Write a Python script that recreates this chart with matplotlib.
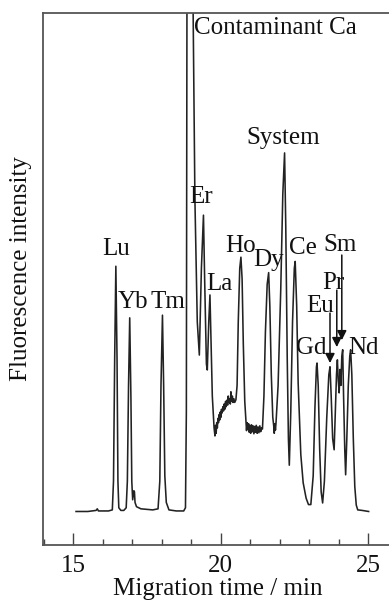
import matplotlib
matplotlib.use("Agg")
import matplotlib.pyplot as plt
from matplotlib.ticker import MultipleLocator

plt.rcParams['font.family'] = ['Liberation Serif', 'DejaVu Serif']

# electropherogram trace (time in min, intensity in % of axis height)
time = [15.10, 15.50, 15.78, 15.82, 15.86, 16.20, 16.33, 16.37, 16.41, 16.45, 16.49, 16.52, 16.55,
        16.62, 16.72, 16.80, 16.84, 16.88, 16.92, 16.96, 16.99, 17.02, 17.06, 17.08, 17.10, 17.15,
        17.30, 17.70, 17.88, 17.94, 17.98, 18.03, 18.07, 18.11, 18.16, 18.25, 18.50, 18.75, 18.81,
        18.84, 18.86, 18.96, 19.07, 19.13, 19.21, 19.28, 19.35, 19.42, 19.46, 19.52, 19.55, 19.60,
        19.64, 19.67, 19.72, 19.78, 19.81,
        19.83, 19.85, 19.87, 19.89, 19.91, 19.93, 19.95, 19.97, 19.99, 20.01, 20.03, 20.05, 20.08,
        20.10, 20.12, 20.14, 20.17, 20.19, 20.21, 20.24, 20.26, 20.28, 20.31, 20.33, 20.35, 20.37,
        20.40, 20.42, 20.45, 20.48, 20.52,
        20.56, 20.60, 20.65, 20.69, 20.73, 20.77, 20.82, 20.86,
        20.88, 20.90, 20.92, 20.95, 20.97, 21.00, 21.02, 21.05, 21.08, 21.10, 21.13, 21.16, 21.18,
        21.21, 21.24, 21.27, 21.30, 21.33, 21.36, 21.39, 21.42,
        21.47, 21.52, 21.58, 21.63, 21.67, 21.72, 21.77, 21.80, 21.82, 21.84, 21.86, 21.88,
        21.95, 22.04, 22.11, 22.17, 22.21, 22.26, 22.30, 22.33,
        22.38, 22.44, 22.50, 22.53, 22.58, 22.63, 22.72, 22.80, 22.90, 22.98, 23.06,
        23.14, 23.20, 23.25, 23.27, 23.31, 23.36, 23.41, 23.46,
        23.52, 23.60, 23.67, 23.71, 23.75, 23.80, 23.85,
        23.89, 23.93, 23.96, 23.99, 24.02, 24.05, 24.08, 24.11, 24.14, 24.17, 24.21, 24.24,
        24.28, 24.33, 24.38, 24.41, 24.45, 24.50, 24.55, 24.60, 24.65, 24.80, 25.02]
intensity = [6.3, 6.3, 6.5, 6.8, 6.4, 6.4, 6.6, 12, 35, 52.4, 35, 12, 7.0,
             6.5, 6.5, 7.0, 12, 30, 42.7, 28, 12, 8.5, 10.2, 10.0, 8.0, 7.2,
             6.8, 6.6, 6.8, 12, 30, 43.2, 30, 13, 8, 6.6, 6.4, 6.4, 7,
             25, 100, 150, 100, 65, 42, 35.7, 52, 62.0, 50, 34, 32.9, 42,
             47.0, 40, 28, 22, 20.5,
             22.5, 21.0, 23.0, 22.0, 23.8, 23.0, 24.5, 23.5, 25.0, 24.0, 25.5, 24.8, 26.0,
             25.2, 26.5, 25.5, 27.0, 26.0, 27.2, 26.3, 28.0, 26.8, 27.5, 26.5, 28.8, 27.0,
             28.0, 26.8, 27.5, 26.8, 27.3,
             30, 42, 52, 54.1, 50, 38, 27, 23.2,
             21.5, 23.0, 21.8, 22.8, 21.2, 22.5, 21.0, 22.6, 21.3, 22.4, 20.9, 22.3, 21.2,
             22.5, 21.0, 22.2, 21.1, 22.4, 21.3, 22.0, 21.8,
             28, 40, 49, 51.2, 45, 32, 24, 22.5, 21.0, 22.8, 21.6, 23,
             30, 48, 66, 73.7, 60, 35, 20, 15.0,
             25, 42, 52, 53.3, 45, 30.5, 17, 11.7, 8.8, 7.6, 7.6,
             13, 26, 33.5, 34.2, 30, 18, 10, 7.9,
             12, 24, 32, 33.5, 28, 20, 17.9,
             25, 32, 34.8, 31, 28.6, 33, 30, 35.5, 36.7, 28, 18, 13.2,
             20, 30, 35.5, 36.7, 32, 20, 11, 7.5, 6.6, 6.5, 6.3]

# peak labels
labels = ['Contaminant Ca', 'System', 'Er', 'La', 'Lu', 'Yb', 'Tm', 'Ho', 'Dy', 'Ce',
          'Sm', 'Pr', 'Eu', 'Gd', 'Nd']
label_t = [21.85, 22.12, 19.34, 19.95, 16.46, 17.02, 18.22, 20.66, 21.64, 22.78,
           24.05, 23.81, 23.37, 23.07, 24.83]
label_i = [97.2, 76.5, 65.4, 49.0, 55.6, 45.7, 45.7, 56.2, 53.6, 55.8,
           56.4, 49.2, 44.9, 37.0, 37.0]

# arrows for Eu, Pr, Sm
arrow_t = [23.71, 23.94, 24.11]
arrow_from = [43.6, 47.9, 54.5]
arrow_to = [34.2, 37.2, 38.5]

fig = plt.figure(figsize=(3.89, 6.02), dpi=100)
ax = fig.add_axes([43 / 389, 57 / 602, 346 / 389, 532 / 602])

ax.plot(time, intensity, color='#222222', linewidth=1.15)

for lab, t, i in zip(labels, label_t, label_i):
    ax.text(t, i, lab, ha='center', va='center', fontsize=18, color='#111111')

for t, a, b in zip(arrow_t, arrow_from, arrow_to):
    ax.annotate('', xy=(t, b), xytext=(t, a),
                arrowprops=dict(arrowstyle='-|>', color='#111111', lw=1.1,
                                mutation_scale=14, shrinkA=0, shrinkB=0))

ax.set_xlim(13.98, 25.71)
ax.set_ylim(0, 100)
ax.xaxis.set_major_locator(MultipleLocator(5))
ax.xaxis.set_minor_locator(MultipleLocator(1))
ax.tick_params(axis='x', which='major', direction='in', length=9, width=1.0,
               labelsize=18, pad=7, colors='#444444', labelcolor='#111111')
ax.tick_params(axis='x', which='minor', direction='in', length=4, width=1.0,
               colors='#444444')
ax.set_yticks([])

for side in ['left', 'top', 'bottom']:
    ax.spines[side].set_color('#555555')
    ax.spines[side].set_linewidth(1.3)
ax.spines['right'].set_visible(False)

ax.set_xlabel('Migration time / min', fontsize=18, color='#111111')
ax.xaxis.set_label_coords(0.506, -0.062)
ax.set_ylabel('Fluorescence intensity', fontsize=18, color='#111111')
ax.yaxis.set_label_coords(-0.032, 0.52)

fig.savefig('out.png', dpi=100)
